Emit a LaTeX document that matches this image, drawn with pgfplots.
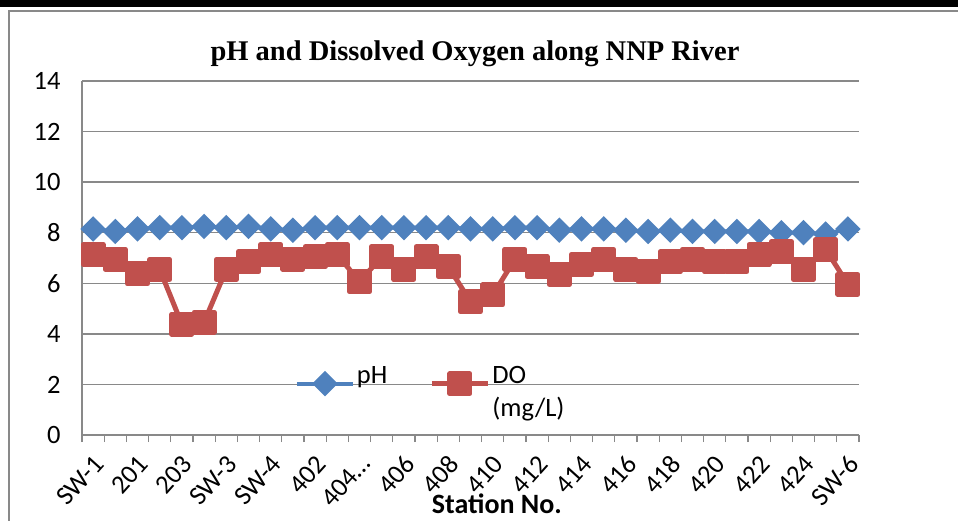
\documentclass[border=0pt]{standalone}
\usepackage{pgfplots}
\usepackage{pgfplotstable}
\pgfplotsset{compat=1.18}
\usepackage{fontspec}
\setmainfont{Carlito}
\newfontfamily\titlefont{Liberation Serif}
\definecolor{phblue}{HTML}{4F81BD}
\definecolor{dored}{HTML}{C0504D}
\definecolor{gridgray}{HTML}{898989}

% station index, pH, dissolved oxygen (mg/L)
\pgfplotstableread{
n  ph    do
1  8.15  7.14
2  8.05  6.95
3  8.15  6.37
4  8.20  6.55
5  8.20  4.38
6  8.25  4.46
7  8.20  6.55
8  8.25  6.85
9  8.15  7.14
10 8.10  6.95
11 8.20  7.05
12 8.20  7.14
13 8.20  6.06
14 8.20  7.05
15 8.20  6.55
16 8.20  7.05
17 8.20  6.66
18 8.15  5.27
19 8.15  5.54
20 8.20  6.95
21 8.20  6.66
22 8.10  6.35
23 8.15  6.75
24 8.15  6.95
25 8.10  6.55
26 8.05  6.46
27 8.10  6.85
28 8.05  6.95
29 8.05  6.85
30 8.05  6.85
31 8.05  7.14
32 8.00  7.25
33 8.00  6.55
34 7.95  7.34
35 8.15  5.96
}\stations

\begin{document}
\begin{tikzpicture}[x=1pt,y=1pt]
\useasboundingbox (0,0) rectangle (958,520);
% page rule and chart frame
\fill[black] (0,512.5) rectangle (958,520);
\draw[gridgray, line width=1.5pt] (9,-5) -- (9,509) -- (965,509);
\node[anchor=base, font=\titlefont\bfseries\fontsize{28.5}{33}\selectfont] at (475,459)
  {pH and Dissolved Oxygen along NNP River};
\begin{axis}[
  at={(82pt,85pt)}, anchor=south west,
  scale only axis, width=777pt, height=354pt,
  xmin=0.5, xmax=35.5, ymin=0, ymax=14,
  ytick={0,2,...,14},
  xtick={1,3,...,35},
  xticklabels={SW-1,201,203,SW-3,SW-4,402,404…,406,408,410,412,414,416,418,420,422,424,SW-6},
  minor xtick={0.5,1.5,...,35.5},
  major tick length=0pt, minor tick length=7pt, tick align=outside,
  ymajorgrids, grid style={gridgray, line width=1.3pt},
  axis lines*=left, axis line style={gridgray, line width=1.3pt, -},
  tick style={gridgray, line width=1.3pt},
  ticklabel style={font=\fontsize{26.5}{30}\selectfont},
  /pgf/number format/assume math mode=true,
  yticklabel style={xshift=-18pt},
  xticklabel style={xshift=8pt, yshift=-22pt, rotate=48, anchor=east},
  xlabel={Station No.},
  xlabel style={font=\bfseries\fontsize{28}{32}\selectfont,
    at={(axis description cs:0.534,-0.222)}, anchor=base, inner sep=1pt},
  legend columns=2,
  legend style={draw=none, fill=none, at={(axis description cs:0.27,0.222)},
    anchor=north west, font=\fontsize{26.5}{33}\selectfont, cells={anchor=base west},
    /tikz/every even column/.append style={column sep=40pt}},
  legend image code/.code={\draw[mark repeat=2,mark phase=2]
    plot coordinates {(0pt,0pt) (28pt,0pt) (56pt,0pt)};},
]
\addplot[phblue, line width=4pt, mark=square*, mark size=7pt,
  mark options={rotate=45, solid}] table[x=n, y=ph] {\stations};
\addlegendentry{pH}
\addplot[dored, line width=5pt, line join=round, mark=square*, mark size=10pt,
  mark options={solid}] table[x=n, y=do] {\stations};
\addlegendentry{\begin{tabular}[t]{@{}l@{}}DO\\(mg/L)\end{tabular}}
\end{axis}
\end{tikzpicture}
\end{document}
